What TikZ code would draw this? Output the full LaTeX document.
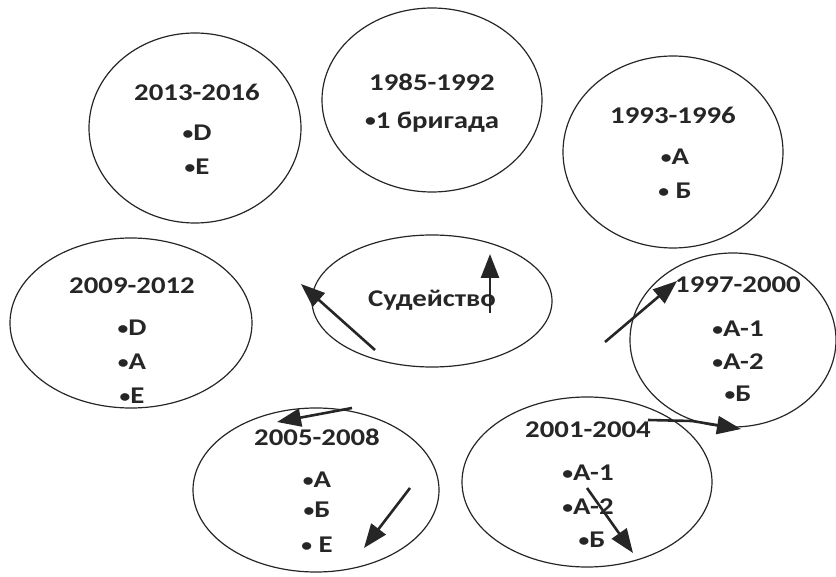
\documentclass[tikz,border=0pt]{standalone}
\usepackage{fontspec}
\setmainfont{Carlito}[FakeStretch=1.2]
\usepackage{tikz}
\usetikzlibrary{shapes.geometric,arrows.meta,positioning}

\newcommand{\dotmark}{\raisebox{0.15ex}{\small•}}

\begin{document}
\begin{tikzpicture}[
                    x=0.5pt, y=-0.5pt,
                    node distance=17pt,
                    every node/.style={
                        font=\large\bfseries,
                        text=black!85
                    },
                    period/.style={
                        ellipse,
                        draw=black!85,
                        line width=0.6pt,
                        inner sep=0pt
                    },
                    arr/.style={
                        draw=black!85,
                        line width=1.3pt,
                        -{Triangle[length=12pt,width=9pt]}
                    }
                ]
                    \useasboundingbox (0,0) rectangle (836,577);

                    % Ellipses
                    \node[period, minimum width=106pt, minimum height=95pt] (e2013) at (195,128) {};
                    \node[period, minimum width=110pt, minimum height=92pt] (e1985) at (432,100) {};
                    \node[period, minimum width=110pt, minimum height=96pt] (e1993) at (673,152) {};
                    \node[period, minimum width=120pt, minimum height=66pt] (judge) at (432,301) {};
                    \node[period, minimum width=121pt, minimum height=85pt] (e2009) at (131,323) {};
                    \node[period, minimum width=103pt, minimum height=87pt] (e1997) at (733,340) {};
                    \node[period, minimum width=123pt, minimum height=82pt] (e2005) at (316,490) {};
                    \node[period, minimum width=125pt, minimum height=85pt] (e2001) at (587,482) {};

                    % Texts
                    \node (t2013) at (197,92) {2013-2016};
                    \node (t2013a) [below of=t2013, node distance=20.5pt] {\dotmark D};
                    \node (t2013b) [below of=t2013a] {\dotmark E};

                    \node (t1985) at (432,82) {1985-1992};
                    \node (t1985a) [below of=t1985, node distance=20pt] {\dotmark 1 бригада};

                    \node (t1993) at (673,115) {1993-1996};
                    \node (t1993a) [below of=t1993, node distance=21pt, xshift=1pt] {\dotmark А};
                    \node (t1993b) [below of=t1993a] {\dotmark\ Б};

                    \node (tjudge) at (432,300) {Судейство};

                    \node (t2009) at (132,286) {2009-2012};
                    \node (t2009a) [below of=t2009, node distance=21pt] {\dotmark D};
                    \node (t2009b) [below of=t2009a] {\dotmark А};
                    \node (t2009c) [below of=t2009b] {\dotmark E};

                    \node (t1997) at (738,285) {1997-2000};
                    \node (t1997a) [below of=t1997, node distance=22pt] {\dotmark А-1};
                    \node (t1997b) [below of=t1997a, node distance=16.5pt] {\dotmark А-2};
                    \node (t1997c) [below of=t1997b, node distance=16pt] {\dotmark Б};

                    \node (t2005) at (317,437) {2005-2008};
                    \node (t2005a) [below of=t2005, node distance=21.5pt] {\dotmark А};
                    \node (t2005b) [below of=t2005a, node distance=15pt] {\dotmark Б};
                    \node (t2005c) [below of=t2005b, node distance=17.5pt] {\dotmark\ E};

                    \node (t2001) at (588,430) {2001-2004};
                    \node (t2001a) [below of=t2001, node distance=21.5pt] {\dotmark А-1};
                    \node (t2001b) [below of=t2001a] {\dotmark А-2};
                    \node (t2001c) [below of=t2001b, node distance=16.5pt, xshift=2pt] {\dotmark Б};

                    % Arrows
                    \coordinate (a1s) at (490,313);  \coordinate (a1e) at (490,254);
                    \coordinate (a2s) at (375,350);  \coordinate (a2e) at (301,284);
                    \coordinate (a3s) at (605,342);  \coordinate (a3e) at (677,281);
                    \coordinate (a4s) at (648,420);  \coordinate (a4m) at (692,421);
                    \coordinate (a4e) at (741,429);
                    \coordinate (a5s) at (587,488);  \coordinate (a5e) at (633,553);
                    \coordinate (a6s) at (352,408);  \coordinate (a6e) at (277,422);
                    \coordinate (a7s) at (410,488);  \coordinate (a7e) at (364,548);

                    \draw[arr] (a1s) -- (a1e);
                    \draw[arr] (a2s) -- (a2e);
                    \draw[arr] (a3s) -- (a3e);
                    \draw[arr] (a4s) -- (a4m) -- (a4e);
                    \draw[arr] (a5s) -- (a5e);
                    \draw[arr] (a6s) -- (a6e);
                    \draw[arr] (a7s) -- (a7e);
                \end{tikzpicture}
\end{document}
